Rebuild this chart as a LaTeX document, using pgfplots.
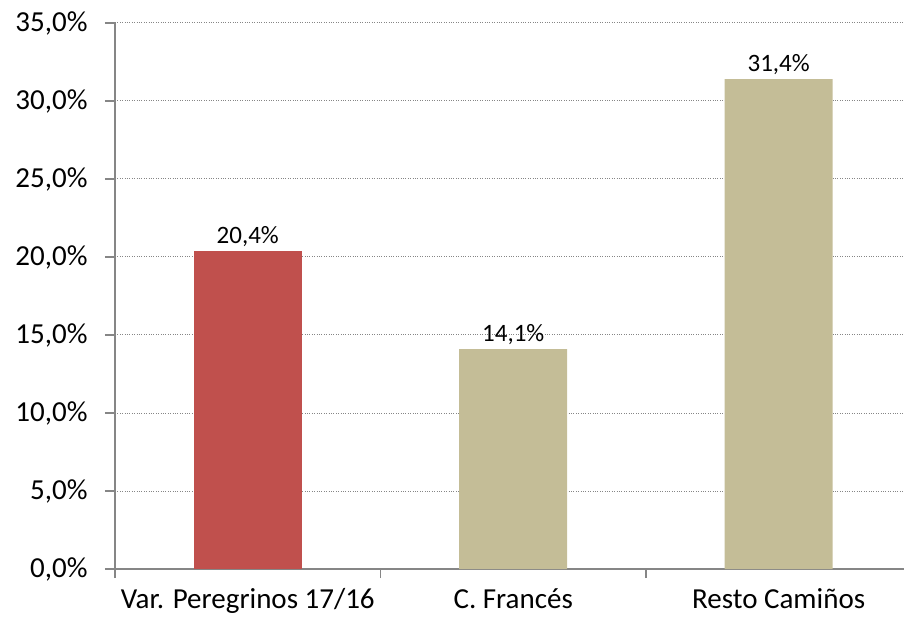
\documentclass[border=0pt]{standalone}
\usepackage{fontspec}
\setmainfont{Carlito}
\usepackage{pgfplots}
\pgfplotsset{compat=1.18}
\definecolor{redbar}{HTML}{C0504D}
\definecolor{tanbar}{HTML}{C4BD97}
\definecolor{axgray}{HTML}{868686}
\begin{document}
\begin{tikzpicture}
\begin{axis}[
  scale only axis, width=789pt, height=546pt,
  xmin=-0.5, xmax=2.472, ymin=0, ymax=35,
  axis x line*=bottom, axis y line*=left,
  axis line style={axgray, line width=1.2pt, -},
  ytick={0,5,...,35},
  ymajorgrids, grid style={axgray, dotted, line width=1pt},
  /pgf/number format/assume math mode=true,
  yticklabel={\pgfmathprintnumber[fixed,fixed zerofill,precision=1,use comma]{\tick}\%},
  xtick={0,1,2},
  xticklabels={Var. Peregrinos 17/16, C. Francés, Resto Camiños},
  minor xtick={-0.5,0.5,1.5},
  tick align=outside, major tick length=10pt, minor tick length=9pt,
  major x tick style={draw=none},
  minor x tick style={axgray, line width=1.2pt},
  ytick style={axgray, line width=1.2pt},
  ticklabel style={font=\fontsize{29}{32}\selectfont, text=black},
  yticklabel style={xshift=-14pt},
  xticklabel style={yshift=-6pt},
  nodes near coords={\pgfmathprintnumber[fixed,fixed zerofill,precision=1,use comma]{\pgfplotspointmeta}\%},
  nodes near coords style={font=\fontsize{25}{28}\selectfont, text=black, anchor=south, inner sep=4pt},
  clip=false,
]
\addplot[ybar, bar shift=0pt, bar width=0.407, fill=redbar, draw=none] coordinates {(0,20.4)};
\addplot[ybar, bar shift=0pt, bar width=0.407, fill=tanbar, draw=none] coordinates {(1,14.1) (2,31.4)};
\coordinate (O) at (rel axis cs:0,0);
\end{axis}
\pgfresetboundingbox
\path[use as bounding box] (O) ++(-115pt,-52pt) rectangle ++(904pt,621pt);
\end{tikzpicture}
\end{document}
